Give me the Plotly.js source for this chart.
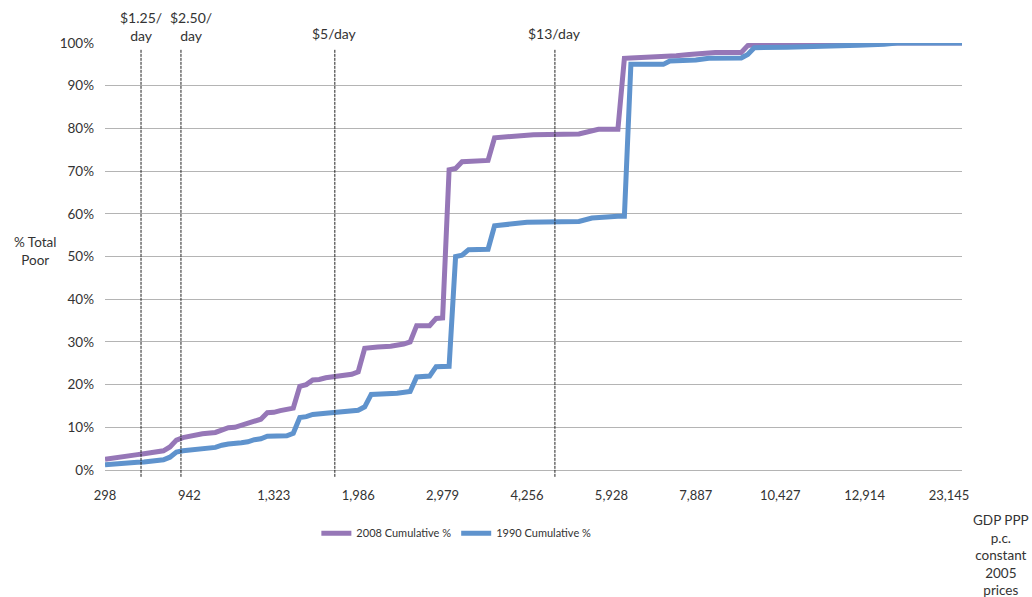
<!DOCTYPE html>
<html>
<head>
<meta charset="utf-8">
<script src="https://cdn.plot.ly/plotly-3.0.1.min.js"></script>
<style>html,body{margin:0;padding:0;background:#fff;}#chart{width:1032px;height:597px;}</style>
</head>
<body>
<div id="chart"></div>
<script>
// Countries ranked by GDP PPP per capita (category index) -> cumulative % of total poor
const idx2008 = [0,3,5,6,8,9,10,11,12,13,15,17,18,19,20,21,22,23,24,25,26,27,28,29,30,31,32,33,34,36,38,39,40,42,44,46,47,48,50,51,52,53,54,55,57,59,60,61,63,66,73,75,76,79,80,81,86,88,90,92,94,98,99,100,105,110,132];
const pct2008 = [2.5,3.0,3.6,3.8,4.3,4.5,5.4,7.0,7.6,8.0,8.5,8.8,9.4,9.9,10.0,10.5,11.0,11.6,11.9,13.4,13.5,13.9,14.1,14.5,19.6,20.0,21.1,21.2,21.6,22.0,22.4,23.0,28.5,28.8,29.0,29.5,30.0,33.8,33.8,35.5,35.6,70.3,70.6,72.2,72.3,72.5,77.8,77.9,78.0,78.5,78.7,79.6,79.8,79.8,96.4,96.5,96.7,97.0,97.3,97.6,97.8,97.8,99.4,99.6,99.8,100,100];

const idx1990 = [0,3,5,6,8,9,10,11,12,14,15,17,18,19,21,22,23,24,25,28,29,30,31,32,34,37,39,40,41,45,47,48,50,51,53,54,55,56,59,60,62,65,73,75,79,80,81,86,87,91,93,98,99,100,105,113,116,120,122,132];
const pct1990 = [1.2,1.4,1.8,1.9,2.3,2.4,3.0,4.2,4.5,4.8,5.1,5.3,5.8,6.1,6.4,6.6,7.1,7.3,7.9,8.0,8.6,12.3,12.5,13.0,13.3,13.6,14.0,14.8,17.7,18.0,18.4,21.8,22.0,24.2,24.3,50.0,50.3,51.6,51.7,57.2,57.5,58.0,58.2,59.0,59.4,59.4,95.0,95.0,95.8,96.0,96.4,96.5,97.3,98.9,99.0,99.2,99.5,99.7,100,100];

const lastIndex = 132;
const tickLabels = ["298","942","1,323","1,986","2,979","4,256","5,928","7,887","10,427","12,914","23,145"];
const tickStep = 13;

const povertyLineIdx = [5.55, 11.7, 35.4, 69.3];
const povertyLineText = ["$1.25/<br>day", "$2.50/<br>day", "$5/day", "$13/day"];

const seriesNames = ["2008 Cumulative %", "1990 Cumulative %"];
const seriesColors = ["#9677b7", "#5f93cd"];

const FONT = "Lato, 'Open Sans', sans-serif";
const TXT = "#333333";

const traces = [
  {x: idx2008, y: pct2008, name: seriesNames[0], type: "scatter", mode: "lines",
   line: {color: seriesColors[0], width: 5}},
  {x: idx1990, y: pct1990, name: seriesNames[1], type: "scatter", mode: "lines",
   line: {color: seriesColors[1], width: 5}}
];

const shapes = povertyLineIdx.map(v => ({
  type: "line", xref: "x", yref: "paper", x0: v, x1: v, y0: -0.016, y1: 0.984,
  line: {color: "#222", width: 1, dash: "3px,1px"}
}));

const annotations = povertyLineText.map((t, i) => ({
  text: t, xref: "x", yref: "paper", x: povertyLineIdx[i], y: t.indexOf("<br>") >= 0 ? 1.038 : 1.022,
  xshift: i === 1 ? 10 : 0,
  showarrow: false, xanchor: "center", yanchor: "middle",
  font: {family: FONT, size: 14, color: TXT}
}));
annotations.push({
  text: "% Total<br>Poor", xref: "paper", yref: "paper", x: -0.082, y: 0.513,
  showarrow: false, xanchor: "center", yanchor: "middle", align: "center",
  font: {family: FONT, size: 13.5, color: TXT}
});
annotations.push({
  text: "GDP PPP<br>p.c.<br>constant<br>2005<br>prices", xref: "paper", yref: "paper", x: 1.045, y: -0.2,
  showarrow: false, xanchor: "center", yanchor: "middle", align: "center",
  font: {family: FONT, size: 13.5, color: TXT}
});

const layout = {
  width: 1032, height: 597,
  margin: {l: 105, r: 70, t: 43, b: 127},
  paper_bgcolor: "#fff", plot_bgcolor: "#fff",
  font: {family: FONT, size: 12, color: TXT},
  showlegend: true,
  legend: {orientation: "h", x: 0.41, xanchor: "center", y: -0.148, yanchor: "middle",
           font: {family: FONT, size: 11, color: TXT}, itemwidth: 30},
  xaxis: {
    range: [0, lastIndex], showgrid: false, zeroline: false,
    showline: true, linecolor: "#b4b4b4", linewidth: 1,
    tickmode: "array",
    tickvals: tickLabels.map((_, i) => i * tickStep),
    ticktext: tickLabels, ticks: "", ticklabelstandoff: 13,
    tickfont: {family: FONT, size: 13, color: TXT}
  },
  yaxis: {
    range: [0, 100], tickmode: "linear", tick0: 0, dtick: 10, ticksuffix: "%",
    showgrid: true, gridcolor: "#b4b4b4", gridwidth: 1, zeroline: false,
    ticks: "", ticklabelstandoff: 10,
    tickfont: {family: FONT, size: 13.5, color: TXT}
  },
  shapes: shapes,
  annotations: annotations
};

Plotly.newPlot("chart", traces, layout, {displayModeBar: false, staticPlot: true});
</script>
</body>
</html>
